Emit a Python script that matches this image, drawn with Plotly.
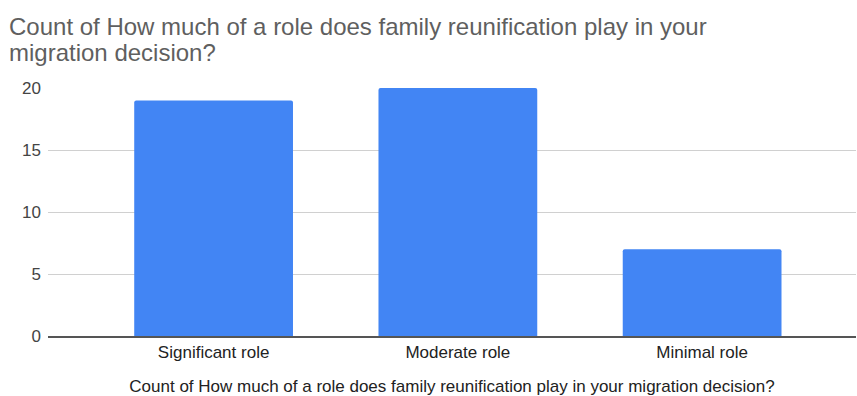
import plotly.graph_objects as go

# Survey responses: how much family reunification weighs in the migration decision
categories = ["Significant role", "Moderate role", "Minimal role"]
counts = [19, 20, 7]
y_ticks = [0, 5, 10, 15, 20]

title_lines = [
    "Count of How much of a role does family reunification play in your",
    "migration decision?",
]
x_title = "Count of How much of a role does family reunification play in your migration decision?"

W, H = 857, 396
PLOT_LEFT, PLOT_RIGHT, PLOT_TOP, PLOT_BOTTOM = 48, 1, 88, 58
plot_w = W - PLOT_LEFT - PLOT_RIGHT
plot_h = H - PLOT_TOP - PLOT_BOTTOM


def paper_y(px_from_top):
    return (H - PLOT_BOTTOM - px_from_top) / plot_h


fig = go.Figure(
    go.Bar(
        x=list(range(len(categories))),
        y=counts,
        width=0.65,
        marker=dict(color="#4285f4", line=dict(width=0), cornerradius=2),
        hoverinfo="x+y",
    )
)

# Two-line title, each line set as its own annotation for tight line spacing
title_annotations = [
    dict(
        text=line,
        xref="paper",
        yref="paper",
        x=-PLOT_LEFT / plot_w,
        y=paper_y(y_px),
        xanchor="left",
        yanchor="middle",
        xshift=7,
        align="left",
        showarrow=False,
        font=dict(size=24, color="#5f5f5f"),
    )
    for line, y_px in zip(title_lines, [26, 52])
]

fig.update_layout(
    width=W,
    height=H,
    margin=dict(l=PLOT_LEFT, r=PLOT_RIGHT, t=PLOT_TOP, b=PLOT_BOTTOM),
    paper_bgcolor="white",
    plot_bgcolor="white",
    font=dict(family="Liberation Sans, Arial, sans-serif", color="#222222"),
    showlegend=False,
    annotations=title_annotations,
)

fig.update_xaxes(
    tickvals=list(range(len(categories))),
    ticktext=categories,
    range=[-0.678, 2.63],
    showgrid=False,
    zeroline=False,
    showline=True,
    linecolor="#555555",
    linewidth=2,
    ticks="",
    tickfont=dict(size=17, color="#222222"),
    title=dict(text=x_title, font=dict(size=17, color="#222222"), standoff=21),
)

fig.update_yaxes(
    range=[0, 20],
    tickvals=y_ticks,
    showgrid=True,
    gridcolor="#d0d0d0",
    gridwidth=1,
    zeroline=False,
    showline=False,
    ticks="",
    ticklabelstandoff=6,
    tickfont=dict(size=17, color="#444444"),
)

fig.write_html("out.html")
